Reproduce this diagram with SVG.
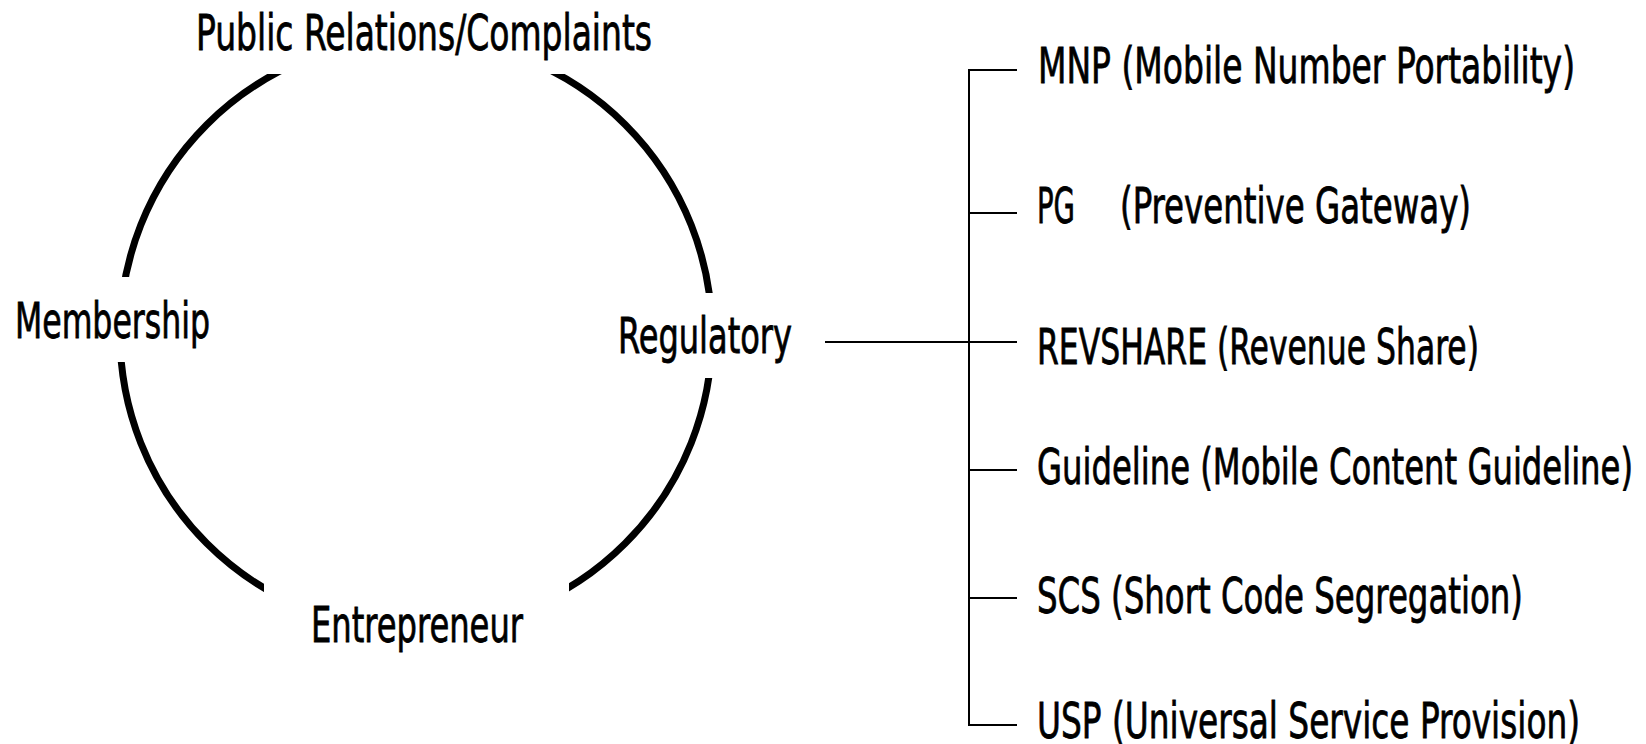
<svg xmlns="http://www.w3.org/2000/svg" width="1646" height="744" viewBox="0 0 1646 744">
  <style>
    .lbl { font-family: "Liberation Sans Narrow", "DejaVu Sans Condensed", "Liberation Sans", sans-serif; font-size: 39px; fill: #000; stroke: #000; stroke-width: 0.6; }
    .ring { fill: none; stroke: #000; stroke-width: 7; }
    .conn { fill: none; stroke: #000; stroke-width: 2; }
  </style>
  <defs>
    <mask id="gaps" maskUnits="userSpaceOnUse" x="0" y="0" width="1646" height="744">
      <rect x="0" y="0" width="1646" height="744" fill="#fff"/>
      <rect x="200" y="0" width="430" height="74" fill="#000"/>
      <rect x="90" y="277" width="60" height="85" fill="#000"/>
      <rect x="680" y="293" width="60" height="85" fill="#000"/>
      <rect x="264" y="560" width="305" height="100" fill="#000"/>
    </mask>
  </defs>
  <rect x="0" y="0" width="1646" height="744" fill="#fff"/>
  <g id="ring">
    <circle class="ring" cx="416" cy="334" r="296" mask="url(#gaps)"/>
  </g>
  <g id="connectors">
    <line class="conn" x1="825" y1="342" x2="969" y2="342"/>
    <polyline class="conn" points="1017,70 969,70 969,725 1017,725"/>
    <line class="conn" x1="969" y1="213" x2="1017" y2="213"/>
    <line class="conn" x1="969" y1="342" x2="1017" y2="342"/>
    <line class="conn" x1="969" y1="470" x2="1017" y2="470"/>
    <line class="conn" x1="969" y1="598" x2="1017" y2="598"/>
  </g>
  <g id="node-public-relations">
    <text class="lbl" transform="translate(196,50) scale(1,1.28)" textLength="456" lengthAdjust="spacingAndGlyphs">Public Relations/Complaints</text>
  </g>
  <g id="node-membership">
    <text class="lbl" transform="translate(15,338) scale(1,1.28)" textLength="195" lengthAdjust="spacingAndGlyphs">Membership</text>
  </g>
  <g id="node-regulatory">
    <text class="lbl" transform="translate(618,353) scale(1,1.28)" textLength="174" lengthAdjust="spacingAndGlyphs">Regulatory</text>
  </g>
  <g id="node-entrepreneur">
    <text class="lbl" transform="translate(311,642) scale(1,1.28)" textLength="212" lengthAdjust="spacingAndGlyphs">Entrepreneur</text>
  </g>
  <g id="node-mnp">
    <text class="lbl" transform="translate(1038,83) scale(1,1.28)" textLength="537" lengthAdjust="spacingAndGlyphs">MNP (Mobile Number Portability)</text>
  </g>
  <g id="node-pg">
    <text class="lbl" transform="translate(1037,223) scale(1,1.28)" xml:space="preserve"><tspan textLength="38" lengthAdjust="spacingAndGlyphs">PG</tspan>   <tspan x="83" textLength="351" lengthAdjust="spacingAndGlyphs">(Preventive Gateway)</tspan></text>
  </g>
  <g id="node-revshare">
    <text class="lbl" transform="translate(1037,364) scale(1,1.28)" textLength="442" lengthAdjust="spacingAndGlyphs">REVSHARE (Revenue Share)</text>
  </g>
  <g id="node-guideline">
    <text class="lbl" transform="translate(1037,484) scale(1,1.28)" textLength="596" lengthAdjust="spacingAndGlyphs">Guideline (Mobile Content Guideline)</text>
  </g>
  <g id="node-scs">
    <text class="lbl" transform="translate(1037,613) scale(1,1.28)" textLength="486" lengthAdjust="spacingAndGlyphs">SCS (Short Code Segregation)</text>
  </g>
  <g id="node-usp">
    <text class="lbl" transform="translate(1037,738) scale(1,1.28)" textLength="543" lengthAdjust="spacingAndGlyphs">USP (Universal Service Provision)</text>
  </g>
</svg>
